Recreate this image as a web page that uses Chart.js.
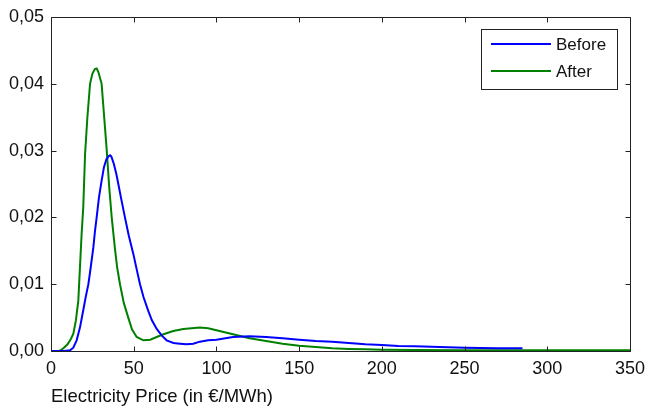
<!DOCTYPE html>
<html>
<head>
<meta charset="utf-8">
<script src="https://cdn.jsdelivr.net/npm/chart.js@4"></script>
<style>
  html, body { margin: 0; padding: 0; background: #fff; }
  canvas { display: block; }
</style>
</head>
<body>
<canvas id="c" width="645" height="406"></canvas>
<script>
const seriesLabels = ["Before", "After"];
const seriesColors = ["#0000ff", "#008000"];

const priceBefore = [0, 8, 11.5, 13.5, 15.5, 17.5, 19.5, 21, 22.6, 24, 25.6, 26.6, 27.6, 29, 30.6, 32, 33.5, 35, 35.7, 36.5, 38, 39.5, 40.7, 42.5, 44.7, 47, 49.8, 52, 53.8, 56, 58.8, 61, 63.9, 67, 69.9, 74, 78, 82, 86, 90, 95, 100, 110, 120, 130, 140, 150, 160, 170, 180, 190, 200, 210, 220, 230, 240, 250, 260, 270, 285];
const densityBefore = [0, 0, 0.0001, 0.0005, 0.0016, 0.0035, 0.0061, 0.0081, 0.0100, 0.0125, 0.0155, 0.0180, 0.0200, 0.0230, 0.0255, 0.0275, 0.0287, 0.0292, 0.0293, 0.0291, 0.0280, 0.0265, 0.0250, 0.0227, 0.0200, 0.0173, 0.0145, 0.0120, 0.0100, 0.0080, 0.0060, 0.0046, 0.0033, 0.0023, 0.0016, 0.0012, 0.0011, 0.0010, 0.0011, 0.0014, 0.0016, 0.0017, 0.0021, 0.0022, 0.0021, 0.0019, 0.0017, 0.0015, 0.0014, 0.0012, 0.0010, 0.0009, 0.00075, 0.0007, 0.00065, 0.00055, 0.0005, 0.00045, 0.0004, 0.0004];

const priceAfter = [0, 5, 7.5, 10, 12, 13.5, 15, 16.5, 17.5, 18.5, 19.5, 20.6, 22, 23.6, 25, 26.5, 27.6, 28.6, 30.6, 32, 33.7, 35.2, 36.7, 38.7, 40, 41.7, 44, 46.7, 49, 51.8, 55.8, 60, 63.9, 68, 73.9, 80, 85, 90, 95, 100, 105, 110, 120, 130, 140, 150, 160, 170, 180, 190, 200, 220, 250, 300, 350];
const densityAfter = [0, 0, 0.0004, 0.0010, 0.0018, 0.0026, 0.0045, 0.0075, 0.0125, 0.0175, 0.0215, 0.0295, 0.0350, 0.0400, 0.0415, 0.0422, 0.0423, 0.0418, 0.0400, 0.0355, 0.0300, 0.0245, 0.0200, 0.0152, 0.0125, 0.0100, 0.0072, 0.0050, 0.0032, 0.0021, 0.0016, 0.0017, 0.0021, 0.0025, 0.0030, 0.0033, 0.0034, 0.0035, 0.0034, 0.0031, 0.0028, 0.0025, 0.0019, 0.0015, 0.0011, 0.0008, 0.0006, 0.0004, 0.0003, 0.00025, 0.0002, 0.00015, 0.0001, 0.0001, 0.0001];

const xMin = 0, xMax = 350, xStep = 50;
const yMin = 0, yMax = 0.05, yStep = 0.01;
const xTitle = "Electricity Price (in €/MWh)";

const FONT = '"Liberation Sans", Arial, sans-serif';
const TEXT = '#111';

function toPoints(xs, ys) { return xs.map((x, i) => ({ x: x, y: ys[i] })); }

const framePlugin = {
  id: 'frame',
  afterDraw(chart) {
    const ctx = chart.ctx, a = chart.chartArea;
    const xs = chart.scales.x, ys = chart.scales.y;
    const L = Math.round(a.left) + 0.5, R = Math.round(a.right) + 0.5;
    const T = Math.round(a.top) + 0.5, B = Math.round(a.bottom) + 0.5;
    const tl = 5;
    ctx.save();
    ctx.strokeStyle = '#222';
    ctx.lineWidth = 1;
    ctx.beginPath();
    ctx.rect(L, T, R - L, B - T);
    xs.ticks.forEach(t => {
      const px = Math.round(xs.getPixelForValue(t.value)) + 0.5;
      ctx.moveTo(px, B); ctx.lineTo(px, B - tl);
      ctx.moveTo(px, T); ctx.lineTo(px, T + tl);
    });
    ys.ticks.forEach(t => {
      const py = Math.round(ys.getPixelForValue(t.value)) + 0.5;
      ctx.moveTo(L, py); ctx.lineTo(L + tl, py);
      ctx.moveTo(R, py); ctx.lineTo(R - tl, py);
    });
    ctx.stroke();

    // legend box (top-right, inside plot)
    const bx = 481.5, by = 29.5, bw = 136, bh = 60;
    ctx.fillStyle = '#fff';
    ctx.fillRect(bx, by, bw, bh);
    ctx.strokeStyle = '#222';
    ctx.strokeRect(bx, by, bw, bh);
    ctx.font = '17px ' + FONT;
    ctx.textBaseline = 'middle';
    ctx.textAlign = 'left';
    chart.data.datasets.forEach((ds, i) => {
      const ly = 44 + i * 27;
      ctx.strokeStyle = ds.borderColor;
      ctx.lineWidth = 2;
      ctx.beginPath();
      ctx.moveTo(491, ly); ctx.lineTo(551, ly);
      ctx.stroke();
      ctx.fillStyle = TEXT;
      ctx.fillText(ds.label, 556, ly + 1);
    });
    ctx.restore();
  }
};

new Chart(document.getElementById('c'), {
  type: 'line',
  data: {
    datasets: [
      { label: seriesLabels[0], data: toPoints(priceBefore, densityBefore), borderColor: seriesColors[0], borderWidth: 2, pointRadius: 0, tension: 0, fill: false },
      { label: seriesLabels[1], data: toPoints(priceAfter, densityAfter), borderColor: seriesColors[1], borderWidth: 2, pointRadius: 0, tension: 0, fill: false }
    ]
  },
  options: {
    responsive: false,
    animation: false,
    layout: { padding: { top: 17, right: 15, left: 0, bottom: 0 } },
    plugins: { legend: { display: false }, tooltip: { enabled: false } },
    scales: {
      x: {
        type: 'linear', min: xMin, max: xMax,
        grid: { display: false, drawTicks: false },
        border: { display: false },
        ticks: { stepSize: xStep, padding: 7, color: TEXT, font: { family: FONT, size: 18 }, maxRotation: 0 },
        title: { display: true, text: xTitle, align: 'start', color: TEXT, font: { family: FONT, size: 18.5 }, padding: { top: 0, bottom: -2 } },
        afterFit(s) { s.height = 55; s.paddingRight = 0; s.paddingLeft = 0; }
      },
      y: {
        type: 'linear', min: yMin, max: yMax,
        grid: { display: false, drawTicks: false },
        border: { display: false },
        ticks: { stepSize: yStep, padding: 7, color: TEXT, font: { family: FONT, size: 18 },
          callback: v => Number(v).toFixed(2).replace('.', ',') },
        afterFit(s) { s.width = 51; s.paddingTop = 0; s.paddingBottom = 0; }
      }
    }
  },
  plugins: [framePlugin]
});
</script>
</body>
</html>
